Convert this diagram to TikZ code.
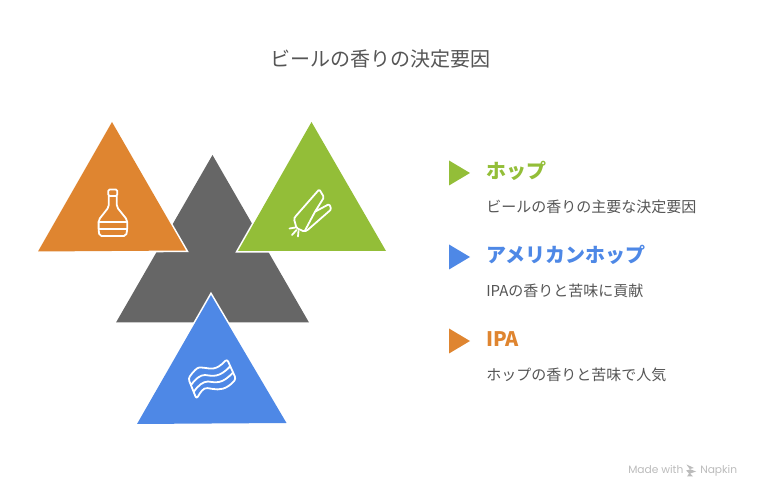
\documentclass[tikz,border=0pt]{standalone}
\usepackage{fontspec}
\setmainfont{Noto Sans CJK JP}
\newfontfamily\footfont{Poppins}
\definecolor{cOrange}{HTML}{DF8530}
\definecolor{cGreen}{HTML}{93BE38}
\definecolor{cBlue}{HTML}{4E88E6}
\definecolor{cGray}{HTML}{666666}
\definecolor{cText}{HTML}{555555}
\definecolor{cFoot}{HTML}{BBBBBB}
\tikzset{
  halo/.style={draw=white,line width=2.4pt,line join=miter,miter limit=3},
  ico/.style={draw=white,line width=1.35pt,line join=round,line cap=round,fill=none},
  titletext/.style={anchor=base,font=\fontsize{15}{18}\selectfont,text=cText,inner sep=0pt},
  headtext/.style={anchor=base west,font=\fontsize{15}{18}\selectfont\bfseries,inner sep=0pt},
  desctext/.style={anchor=base west,font=\fontsize{11.25}{14}\selectfont,text=cText,inner sep=0pt},
  foottext/.style={anchor=base west,font=\footfont\fontsize{8}{10}\selectfont,text=cFoot,inner sep=0pt},
}
\begin{document}
\begin{tikzpicture}[x=0.75pt,y=-0.75pt]
\useasboundingbox (0,0) rectangle (760,498);
\node[titletext] (title) at (380.5,66.5) {ビールの香りの決定要因};
% triangles
\fill[cGray] (212.5,155) -- (309,322.5) -- (116,322.5) -- cycle;
\path[halo] (112,122) -- (186,250.5) -- (38,251.5) -- cycle;
\fill[cOrange] (112,122) -- (186,250.5) -- (38,251.5) -- cycle;
\path[halo] (311.5,122) -- (386,251) -- (238,251) -- cycle;
\fill[cGreen] (311.5,122) -- (386,251) -- (238,251) -- cycle;
\path[halo] (211,295) -- (286.5,423) -- (137,424) -- cycle;
\fill[cBlue] (211,295) -- (286.5,423) -- (137,424) -- cycle;
% bottle
\draw[ico,rounded corners=1pt] (108.3,196) -- (108.3,189.5) -- (117.3,189.5) -- (117.3,196) -- cycle;
\draw[ico,rounded corners=1.5pt] (108.8,196) -- (108.8,207) -- (98.6,220) -- (98.6,230) -- (99.5,236) -- (126,236) -- (127.2,230) -- (127.2,220) -- (116.8,207) -- (116.8,196);
\draw[ico] (98.6,221.7) -- (127.2,221.7) (98.6,229.3) -- (127.2,229.3);
% leek
\draw[ico,rounded corners=1pt] (315,211.7) -- (324,197.3) -- (319.3,189.3) -- (295,217) -- (294,219) -- (296.5,228) -- (304,231.5) -- (307,230.5) -- (331.3,209.3) -- (329.3,204) -- (315,211.7);
\draw[ico] (315,211.7) -- (305,230.5);
\draw[ico] (289.5,228.5) -- (295.5,227.5) (292,235) -- (296.5,230) (298,236.5) -- (298.5,231);
% bacon
\draw[ico,rounded corners=2pt] (188.3,378.5) .. controls (193,372) and (197,367.5) .. (202,367.5) .. controls (210,368.5) and (216,371) .. (227,359) -- (236,379) .. controls (226,390) and (219,390) .. (210,388.5) .. controls (203,387.5) and (200,393) .. (196.5,399) -- cycle;
\draw[ico] (191,385) .. controls (196,378.5) and (200,375) .. (205,375) .. controls (213,376) and (219,378) .. (230,366.5);
\draw[ico] (193.7,392) .. controls (198,385.5) and (203,381.5) .. (208,381.5) .. controls (216,382.5) and (222,384.5) .. (233,372.5);
% items
\fill[cGreen] (449,160.5) -- (470,173) -- (449,185.5) -- cycle;
\node[headtext,text=cGreen] (h1) at (486,178.5) {ホップ};
\node[desctext] (d1) at (486,213) {ビールの香りの主要な決定要因};
\fill[cBlue] (449,244.5) -- (470,257) -- (449,269.5) -- cycle;
\node[headtext,text=cBlue] (h2) at (486,262.5) {アメリカンホップ};
\node[desctext] (d2) at (486,297) {IPAの香りと苦味に貢献};
\fill[cOrange] (449,328.5) -- (470,341) -- (449,353.5) -- cycle;
\node[headtext,text=cOrange] (h3) at (486,347) {IPA};
\node[desctext] (d3) at (486,381) {ホップの香りと苦味で人気};
% footer
\node[foottext] (f1) at (628,473.5) {Made with};
\fill[cFoot] (686.5,464.5) -- (694,468) -- (689.5,469) -- (696,471.5) -- (690,473.5) -- (693,476.5) -- (687,476.5) -- (689,473.5) -- (686,470.5) -- (690,469.5) -- cycle;
\node[foottext] (f2) at (700,473.5) {Napkin};
\end{tikzpicture}
\end{document}
